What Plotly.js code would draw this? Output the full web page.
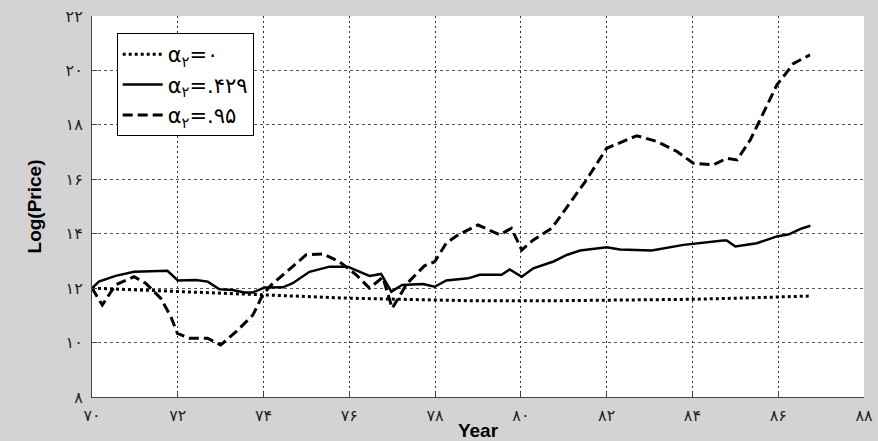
<!DOCTYPE html>
<html>
<head>
<meta charset="utf-8">
<script src="https://cdn.plot.ly/plotly-3.0.1.min.js"></script>
<style>html,body{margin:0;padding:0;background:#d3d3d3;}#chart{width:878px;height:441px;}</style>
</head>
<body>
<div id="chart"></div>
<script>
// Series: alpha2 = 0 (dotted)
const yearsA0 = [70, 72, 74, 76, 77.84, 78.73, 80.91, 83.71, 84, 85.0, 86.75];
const priceA0 = [12.0, 11.87, 11.75, 11.63, 11.57, 11.54, 11.54, 11.57, 11.59, 11.63, 11.71];

// Series: alpha2 = .429 (solid)
const yearsA429 = [70, 70.16, 70.55, 70.98, 71.76, 72.0, 72.42, 72.7, 72.97, 73.28, 73.55, 73.75, 74.02, 74.45, 74.68, 75.07, 75.54, 75.96, 76.47, 76.74, 76.98, 77.23, 77.72, 77.99, 78.26, 78.77, 79.04, 79.55, 79.74, 80.02, 80.29, 80.76, 81.07, 81.38, 82.0, 82.31, 83.05, 83.4, 83.79, 84.72, 84.8, 85.0, 85.5, 85.97, 86.25, 86.52, 86.75];
const priceA429 = [12.0, 12.24, 12.45, 12.6, 12.64, 12.28, 12.3, 12.24, 11.96, 11.93, 11.84, 11.84, 12.02, 12.03, 12.18, 12.6, 12.79, 12.79, 12.45, 12.52, 11.87, 12.12, 12.15, 12.05, 12.28, 12.36, 12.49, 12.49, 12.69, 12.42, 12.73, 12.98, 13.22, 13.38, 13.5, 13.42, 13.38, 13.47, 13.59, 13.75, 13.75, 13.53, 13.65, 13.9, 13.98, 14.18, 14.29];

// Series: alpha2 = .95 (dashed)
const yearsA95 = [70, 70.24, 70.55, 70.98, 71.25, 71.6, 71.84, 71.99, 72.27, 72.69, 73.0, 73.36, 73.75, 73.98, 74.18, 74.68, 74.99, 75.38, 75.77, 76.16, 76.47, 76.78, 77.0, 77.35, 77.75, 77.99, 78.26, 78.54, 79.0, 79.51, 79.78, 80.02, 80.29, 80.72, 81.53, 82.0, 82.7, 83.17, 83.64, 84.02, 84.49, 84.8, 85.04, 85.35, 85.66, 85.97, 86.36, 86.74];
const priceA95 = [12.0, 11.38, 12.12, 12.42, 12.18, 11.63, 10.95, 10.34, 10.16, 10.16, 9.91, 10.4, 11.01, 11.75, 12.12, 12.79, 13.22, 13.26, 12.97, 12.49, 12.0, 12.4, 11.26, 12.18, 12.82, 12.97, 13.65, 13.96, 14.32, 13.96, 14.2, 13.4, 13.77, 14.2, 15.98, 17.14, 17.6, 17.39, 17.02, 16.59, 16.53, 16.77, 16.71, 17.45, 18.43, 19.47, 20.26, 20.57];

// Tick labels (Persian digits)
const xTickVals = [70, 72, 74, 76, 78, 80, 82, 84, 86, 88];
const xTickText = ['۷۰', '۷۲', '۷۴', '۷۶', '۷۸', '۸۰', '۸۲', '۸۴', '۸۶', '۸۸'];
const yTickVals = [8, 10, 12, 14, 16, 18, 20, 22];
const yTickText = ['۸', '۱۰', '۱۲', '۱۴', '۱۶', '۱۸', '۲۰', '۲۲'];

const legendNames = ['α<sub>۲</sub>=۰', 'α<sub>۲</sub>=.۴۲۹', 'α<sub>۲</sub>=.۹۵'];

const traces = [
  {x: yearsA0, y: priceA0, name: legendNames[0], mode: 'lines',
   line: {color: '#000', width: 3, dash: '3px,3px'}},
  {x: yearsA429, y: priceA429, name: legendNames[1], mode: 'lines',
   line: {color: '#000', width: 2.5}},
  {x: yearsA95, y: priceA95, name: legendNames[2], mode: 'lines',
   line: {color: '#000', width: 3, dash: '10px,5px'}}
];

const layout = {
  width: 878, height: 441,
  paper_bgcolor: '#d3d3d3',
  plot_bgcolor: '#ffffff',
  margin: {l: 92, r: 14, t: 16, b: 44},
  showlegend: true,
  legend: {
    x: 0.032, y: 0.955, xanchor: 'left', yanchor: 'top',
    bgcolor: '#ffffff', bordercolor: '#000', borderwidth: 1,
    font: {family: 'DejaVu Sans, Arial', size: 21, color: '#000'},
    itemwidth: 40, tracegroupgap: 0
  },
  xaxis: {
    range: [70, 88], tickvals: xTickVals, ticktext: xTickText,
    showgrid: true, gridcolor: '#333', griddash: '2px,3px', gridwidth: 1,
    showline: true, linecolor: '#444', linewidth: 1,
    ticks: 'inside', ticklen: 5, tickcolor: '#444',
    zeroline: false, ticklabelstandoff: 4,
    tickfont: {family: 'DejaVu Sans, Arial', size: 16, color: '#222'},
    title: {text: 'Year', font: {family: 'Arial, Liberation Sans', size: 19, color: '#000', weight: 'bold'}, standoff: 4}
  },
  yaxis: {
    range: [8, 22], tickvals: yTickVals, ticktext: yTickText,
    showgrid: true, gridcolor: '#555', griddash: '3px,3px', gridwidth: 1,
    showline: true, linecolor: '#444', linewidth: 1,
    ticks: 'inside', ticklen: 5, tickcolor: '#444',
    zeroline: false, ticklabelstandoff: 5,
    tickfont: {family: 'DejaVu Sans, Arial', size: 16, color: '#222'},
    title: {text: 'Log(Price)', font: {family: 'Arial, Liberation Sans', size: 19, color: '#000', weight: 'bold'}, standoff: 18}
  }
};

Plotly.newPlot('chart', traces, layout, {displayModeBar: false, staticPlot: true});
</script>
</body>
</html>
